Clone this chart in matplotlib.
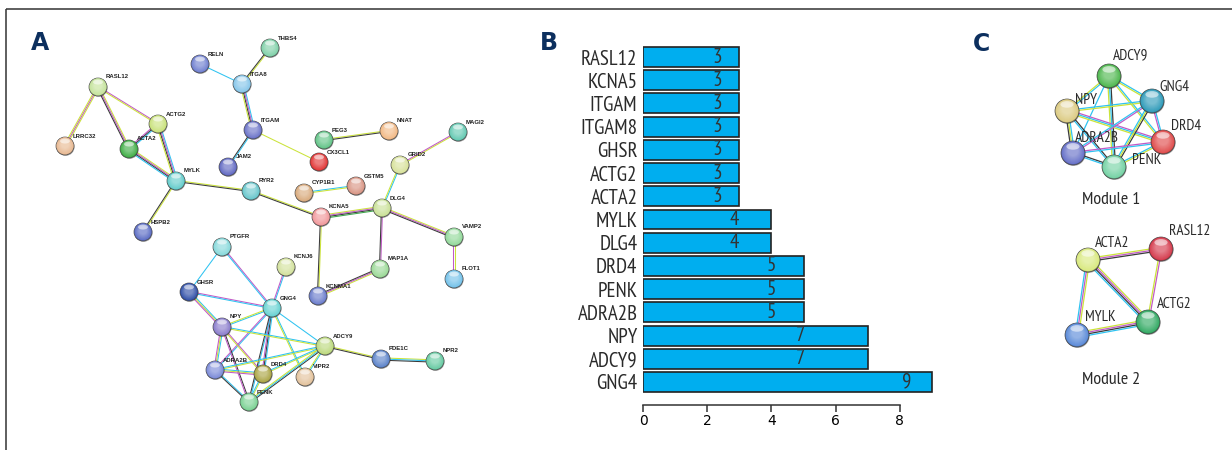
import matplotlib
matplotlib.use('Agg')
import matplotlib.pyplot as plt
from matplotlib.patches import Circle, Ellipse
from matplotlib.colors import to_rgb
import numpy as np
import logging
logging.getLogger('matplotlib.font_manager').setLevel(logging.ERROR)

# ---------------- Panel B data ----------------
genes = ['RASL12', 'KCNA5', 'ITGAM', 'ITGAM8', 'GHSR', 'ACTG2', 'ACTA2',
         'MYLK', 'DLG4', 'DRD4', 'PENK', 'ADRA2B', 'NPY', 'ADCY9', 'GNG4']
degree = [3, 3, 3, 3, 3, 3, 3, 4, 4, 5, 5, 5, 7, 7, 9]
x_ticks = [0, 2, 4, 6, 8]

# ---------------- Panel A network (layout) ----------------
a_nodes = ['THBS4', 'RELN', 'ITGA8', 'RASL12', 'ITGAM', 'ACTG2', 'LRRC32', 'ACTA2',
           'NNAT', 'PEG3', 'MAGI2', 'JAM2', 'CX3CL1', 'GRID2', 'MYLK', 'RYR2',
           'CYP1B1', 'GSTM5', 'DLG4', 'KCNA5', 'VAMP2', 'HSPB2', 'PTGFR', 'KCNJ6',
           'GHSR', 'GNG4', 'MAP1A', 'FLOT1', 'KCNMA1', 'NPY', 'ADCY9', 'PDE1C',
           'NPR2', 'ADRA2B', 'DRD4', 'VIPR2', 'PENK']
a_x = [270, 200, 242, 98, 253, 158, 65, 129, 389, 324, 458, 228, 319, 400, 176, 251,
       304, 356, 382, 321, 454, 143, 222, 286, 189, 272, 380, 454, 318, 222, 325, 381,
       435, 215, 263, 305, 249]
a_y = [48, 64, 84, 87, 130, 124, 146, 149, 131, 140, 132, 167, 162, 165, 181, 191,
       193, 186, 208, 217, 237, 232, 247, 267, 292, 308, 269, 279, 296, 327, 346, 359,
       361, 370, 374, 377, 402]
a_colors = ['#7fd0a8', '#6f7fd0', '#86c6ea', '#c4e39a', '#6a72c8', '#c9e27a', '#e8b992',
            '#3fae45', '#f2b985', '#62c487', '#63c9b2', '#6068c2', '#e23535', '#d8e29a',
            '#63cccb', '#67c6cc', '#d9aa7c', '#d99584', '#c9e196', '#f0979a', '#92d99a',
            '#5b6cc4', '#86d9db', '#d3e29d', '#3150a8', '#66d2d2', '#9ad996', '#74c2ea',
            '#6a7ccc', '#8a7ccc', '#bcd97d', '#5a82c9', '#66caa2', '#7a8ad8', '#aaa443',
            '#e3c29c', '#7bd293']
a_edges = [('RASL12', 'LRRC32', 'ymy'), ('RASL12', 'ACTA2', 'ymk'), ('RASL12', 'ACTG2', 'my'),
           ('ACTG2', 'ACTA2', 'ckm'), ('ACTG2', 'MYLK', 'cmky'), ('ACTA2', 'MYLK', 'ymkc'),
           ('MYLK', 'HSPB2', 'yk'), ('MYLK', 'RYR2', 'yk'), ('RYR2', 'KCNA5', 'yk'),
           ('THBS4', 'ITGA8', 'yk'), ('RELN', 'ITGA8', 'c'), ('ITGA8', 'ITGAM', 'cmky'),
           ('ITGAM', 'JAM2', 'ck'), ('ITGAM', 'CX3CL1', 'y'), ('PEG3', 'NNAT', 'yk'),
           ('MAGI2', 'GRID2', 'ym'), ('GRID2', 'DLG4', 'cy'), ('CYP1B1', 'GSTM5', 'cy'),
           ('KCNA5', 'DLG4', 'ymkg'), ('KCNA5', 'KCNMA1', 'yk'), ('DLG4', 'VAMP2', 'ymk'),
           ('DLG4', 'MAP1A', 'mk'), ('VAMP2', 'FLOT1', 'ym'), ('MAP1A', 'KCNMA1', 'ymk'),
           ('PTGFR', 'GHSR', 'c'), ('PTGFR', 'GNG4', 'mc'), ('KCNJ6', 'GNG4', 'cm'),
           ('GHSR', 'GNG4', 'mc'), ('GHSR', 'NPY', 'cym'), ('GNG4', 'NPY', 'cy'),
           ('GNG4', 'ADCY9', 'c'), ('GNG4', 'ADRA2B', 'cm'), ('GNG4', 'DRD4', 'ckm'),
           ('GNG4', 'PENK', 'ck'), ('GNG4', 'VIPR2', 'cy'), ('NPY', 'ADCY9', 'cy'),
           ('NPY', 'ADRA2B', 'cym'), ('NPY', 'PENK', 'km'), ('NPY', 'DRD4', 'my'),
           ('ADCY9', 'ADRA2B', 'yc'), ('ADCY9', 'DRD4', 'yc'), ('ADCY9', 'PENK', 'kcy'),
           ('ADCY9', 'PDE1C', 'yk'), ('ADCY9', 'VIPR2', 'cy'), ('ADRA2B', 'DRD4', 'cym'),
           ('ADRA2B', 'PENK', 'ck'), ('DRD4', 'PENK', 'yc'), ('PDE1C', 'NPR2', 'yck')]

# ---------------- Panel C modules ----------------
m1_nodes = ['ADCY9', 'GNG4', 'NPY', 'DRD4', 'ADRA2B', 'PENK']
m1_x = [1109, 1152, 1067, 1163, 1073, 1114]
m1_y = [76, 101, 111, 142, 153, 167]
m1_colors = ['#4fb84f', '#2e9bb9', '#dccb82', '#e04b4b', '#6670c8', '#74d2a4']
m1_lab_dx = [4, 7, 8, 8, 2, 18]
m1_lab_dy = [-21, -14, -11, -16, -15, -7]
m1_edges = [('ADCY9', 'NPY', 'cy'), ('ADCY9', 'GNG4', 'cy'), ('ADCY9', 'DRD4', 'cy'),
            ('ADCY9', 'ADRA2B', 'c'), ('ADCY9', 'PENK', 'kcy'), ('NPY', 'GNG4', 'cy'),
            ('NPY', 'DRD4', 'mcy'), ('NPY', 'ADRA2B', 'cyk'), ('NPY', 'PENK', 'kc'),
            ('GNG4', 'DRD4', 'cm'), ('GNG4', 'ADRA2B', 'mc'), ('GNG4', 'PENK', 'kyc'),
            ('DRD4', 'ADRA2B', 'cm'), ('DRD4', 'PENK', 'yc'), ('ADRA2B', 'PENK', 'kc')]
m2_nodes = ['ACTA2', 'RASL12', 'ACTG2', 'MYLK']
m2_x = [1088, 1161, 1148, 1077]
m2_y = [260, 249, 322, 335]
m2_colors = ['#d9e97e', '#d53a4c', '#33aa64', '#5a8ad8']
m2_lab_dx = [7, 8, 9, 8]
m2_lab_dy = [-17, -18, -18, -18]
m2_edges = [('ACTA2', 'RASL12', 'ymk'), ('RASL12', 'ACTG2', 'my'),
            ('ACTA2', 'ACTG2', 'ymkc'), ('ACTA2', 'MYLK', 'ymc'), ('MYLK', 'ACTG2', 'ymkc')]

EDGE_COLORS = {'c': '#2fc3f1', 'm': '#c15ac6', 'y': '#cbe33a', 'k': '#3a3a3a', 'g': '#3ea84c'}
NAVY = '#0c2f5e'
NARROW = ['PT Sans Narrow', 'Fira Sans Condensed', 'Roboto Condensed', 'Open Sans Condensed',
          'Archivo Narrow', 'Pragati Narrow', 'DejaVu Sans']

W, H = 1232, 450
fig = plt.figure(figsize=(W / 100, H / 100), dpi=100)
net = fig.add_axes([0, 0, 1, 1])
net.set_xlim(0, W)
net.set_ylim(H, 0)
net.axis('off')

# frame (top and left lines)
net.plot([6, W], [9, 9], color='#333333', lw=1.1, solid_capstyle='butt')
net.plot([6, 6], [9, H], color='#333333', lw=1.1, solid_capstyle='butt')


def mix(c, t):
    r = np.array(to_rgb(c))
    return tuple(r + (1 - r) * t)


def darken(c, t):
    r = np.array(to_rgb(c))
    return tuple(r * (1 - t))


def sphere(ax, x, y, r, color):
    ax.add_patch(Circle((x + 0.6, y + 0.9), r, fc='#00000055', ec='none', zorder=4))
    ax.add_patch(Circle((x, y), r, fc=darken(color, 0.25), ec='#4a4a4a', lw=0.5, zorder=5))
    n = 10
    for i in range(1, n + 1):
        t = i / n
        ax.add_patch(Circle((x, y - r * 0.18 * t), r * (1 - 0.55 * t),
                            fc=mix(color, 0.35 * t), ec='none', zorder=5))
    ax.add_patch(Ellipse((x, y - r * 0.55), r * 1.1, r * 0.55, fc='white',
                         alpha=0.55, ec='none', zorder=6))


def draw_edges(ax, pos, edges, spacing, lw):
    for a, b, chans in edges:
        (x1, y1), (x2, y2) = pos[a], pos[b]
        d = np.array([x2 - x1, y2 - y1], float)
        nrm = np.array([-d[1], d[0]]) / np.hypot(*d)
        k = len(chans)
        for i, ch in enumerate(chans):
            off = (i - (k - 1) / 2) * spacing
            ax.plot([x1 + nrm[0] * off, x2 + nrm[0] * off],
                    [y1 + nrm[1] * off, y2 + nrm[1] * off],
                    color=EDGE_COLORS[ch], lw=lw, zorder=2, solid_capstyle='butt')


# ---- Panel A ----
posA = {n: (x, y) for n, x, y in zip(a_nodes, a_x, a_y)}
draw_edges(net, posA, a_edges, 1.15, 0.75)
for n, x, y, c in zip(a_nodes, a_x, a_y, a_colors):
    sphere(net, x, y, 9, c)
    net.text(x + 8, y - 10, n, fontsize=4.3, fontweight='bold', color='#222222',
             family='Liberation Sans', ha='left', va='center', zorder=7)

# ---- Panel C ----
pos1 = {n: (x, y) for n, x, y in zip(m1_nodes, m1_x, m1_y)}
pos2 = {n: (x, y) for n, x, y in zip(m2_nodes, m2_x, m2_y)}
draw_edges(net, pos1, m1_edges, 1.5, 0.9)
draw_edges(net, pos2, m2_edges, 1.6, 0.9)
for nodes, xs, ys, cs, dxs, dys in [(m1_nodes, m1_x, m1_y, m1_colors, m1_lab_dx, m1_lab_dy),
                                    (m2_nodes, m2_x, m2_y, m2_colors, m2_lab_dx, m2_lab_dy)]:
    for n, x, y, c, dx, dy in zip(nodes, xs, ys, cs, dxs, dys):
        sphere(net, x, y, 12, c)
        net.text(x + dx, y + dy, n, fontsize=11, color='#2a2a2a', family=NARROW,
                 ha='left', va='center', zorder=7)
net.text(1111, 200, 'Module 1', fontsize=13, color='#2a2a2a', family=NARROW,
         ha='center', va='center')
net.text(1111, 380, 'Module 2', fontsize=13, color='#2a2a2a', family=NARROW,
         ha='center', va='center')

# panel letters
for lab, x, y in [('A', 40, 43), ('B', 549, 43), ('C', 982, 44)]:
    net.text(x, y, lab, fontsize=17, fontweight='bold', color=NAVY,
             family='DejaVu Sans', ha='center', va='center')

# ---- Panel B ----
unit = 32.1
x_max = 9.15
left_px, top_px, bot_px = 643, 45.4, 393.6
axb = fig.add_axes([left_px / W, (H - bot_px) / H, x_max * unit / W, (bot_px - top_px) / H])
axb.patch.set_alpha(0)
ypos = np.arange(len(genes))
axb.barh(ypos, degree, height=0.86, color='#00aeef', edgecolor='#222222', linewidth=1.2)
axb.set_xlim(0, x_max)
axb.set_ylim(len(genes) - 0.5, -0.5)
axb.set_yticks(ypos)
axb.set_yticklabels(genes, family=NARROW, fontsize=15, color='#2a2a2a')
axb.tick_params(axis='y', length=0, pad=4)
axb.set_xticks(x_ticks)
axb.set_xticklabels([str(t) for t in x_ticks], family=NARROW, fontsize=15, color='#2a2a2a')
axb.tick_params(axis='x', length=5, width=1.1, color='#333333', pad=2)
for s in ['top', 'right', 'left']:
    axb.spines[s].set_visible(False)
axb.spines['bottom'].set_position(('outward', 8))
axb.spines['bottom'].set_bounds(0, 8)
axb.spines['bottom'].set_linewidth(1.1)
axb.spines['bottom'].set_color('#333333')
label_pos = {3: 2.3, 4: 2.85, 5: 4.0, 7: 4.9, 9: 8.2}
for yy, v in zip(ypos, degree):
    axb.text(label_pos[v], yy, str(v), fontsize=15, color='#333333', family=NARROW,
             ha='center', va='center')

fig.savefig('out.png', dpi=100)
